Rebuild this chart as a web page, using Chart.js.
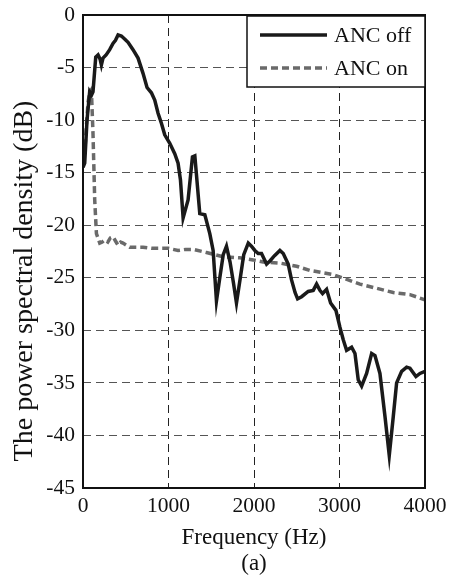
<!DOCTYPE html>
<html>
<head>
<meta charset="utf-8">
<script src="https://cdn.jsdelivr.net/npm/chart.js@4/dist/chart.umd.min.js"></script>
<style>
  html, body { margin: 0; padding: 0; background: #fff; }
  #psdChart { display: block; }
</style>
</head>
<body>
<canvas id="psdChart" width="451" height="583"></canvas>
<script>
// ANC off (solid black)
const offFreq = [0, 20, 47, 78, 100, 117, 149, 176, 200, 215, 234, 270, 312, 351, 380, 410, 449, 490, 527, 585,
    644, 702, 749, 800, 839, 878, 917, 956, 1015, 1073, 1112, 1140, 1171, 1229, 1280, 1308, 1366, 1425, 1483, 1522,
    1561, 1600, 1640, 1678, 1720, 1760, 1795, 1840, 1880, 1933, 1970, 2010, 2049, 2088, 2147, 2186, 2240, 2303, 2342,
    2400, 2439, 2480, 2510, 2557, 2634, 2693, 2732, 2771, 2802, 2849, 2896, 2958, 3005, 3044, 3083, 3142, 3181, 3219,
    3259, 3317, 3376, 3415, 3473, 3532, 3582, 3629, 3668, 3727, 3785, 3824, 3894, 3941, 4000];
const offDb = [-14.5, -14.1, -10, -7.3, -7.6, -7.3, -4.0, -3.8, -4.2, -4.75, -4.1, -3.8, -3.3, -2.7, -2.4, -1.9, -2.0, -2.3, -2.6, -3.3,
    -4.1, -5.55, -6.9, -7.4, -8.1, -9.35, -10.3, -11.4, -12.2, -13.2, -14.1, -15.7, -19.3, -17.6, -13.5, -13.4, -18.9, -19.0, -20.8, -22.4,
    -27.2, -25.0, -22.8, -22.0, -23.5, -25.5, -27.4, -25.0, -22.8, -21.7, -22.0, -22.4, -22.7, -22.7, -23.7, -23.4, -22.9, -22.4, -22.7,
    -23.7, -25.2, -26.4, -27.0, -26.8, -26.3, -26.2, -25.6, -26.2, -26.5, -26.1, -27.4, -28.1, -29.7, -30.9, -31.9, -31.6, -32.2, -34.7,
    -35.3, -34.1, -32.2, -32.4, -34.1, -38.2, -41.9, -38.2, -35.0, -33.9, -33.5, -33.6, -34.4, -34.1, -33.9];

// ANC on (grey dashed)
const onFreq = [0, 20, 40, 59, 80, 98, 117, 137, 157, 196, 225, 254, 290, 320, 351, 380, 410, 440, 468, 547,
    620, 702, 800, 898, 1000, 1112, 1200, 1288, 1444, 1639, 1834, 1990, 2107, 2303, 2498, 2654, 2927, 3239, 3629, 3824, 4000];
const onDb = [-13.5, -13.2, -10.5, -8.3, -7.3, -7.1, -11.3, -17.6, -20.8, -21.7, -21.6, -21.4, -21.6, -21.2, -21.1, -21.5, -21.9, -21.6, -21.7, -22.1,
    -22.1, -22.1, -22.2, -22.2, -22.2, -22.4, -22.3, -22.3, -22.6, -23.0, -23.1, -23.3, -23.5, -23.6, -23.9, -24.3, -24.7, -25.6, -26.4, -26.6, -27.1];

const xTicks = [0, 1000, 2000, 3000, 4000];
const yTicks = [0, -5, -10, -15, -20, -25, -30, -35, -40, -45];
const seriesLabels = ['ANC off', 'ANC on'];
const yTitle = 'The power spectral density (dB)';

const FONT = 'Liberation Serif, Times New Roman, serif';

const toPoints = (xs, ys) => xs.map((x, i) => ({x: x, y: ys[i]}));

// frame around the plot area, legend box in the top-right corner, y title
const framePlugin = {
    id: 'frame',
    afterDatasetsDraw(chart) {
        const {ctx, chartArea: a} = chart;
        ctx.save();
        ctx.strokeStyle = '#111';
        ctx.lineWidth = 2;
        ctx.setLineDash([]);
        ctx.strokeRect(a.left, a.top, a.right - a.left, a.bottom - a.top);

        // legend
        const boxL = a.right - 178, boxT = a.top + 1, boxR = a.right, boxB = a.top + 72;
        ctx.fillStyle = '#fff';
        ctx.fillRect(boxL, boxT, boxR - boxL, boxB - boxT);
        ctx.lineWidth = 1.5;
        ctx.strokeRect(boxL, boxT, boxR - boxL, boxB - boxT);
        ctx.font = '22px ' + FONT;
        ctx.textBaseline = 'middle';
        ctx.textAlign = 'left';
        chart.data.datasets.forEach((ds, i) => {
            const y = boxT + 19 + i * 33;
            ctx.strokeStyle = ds.borderColor;
            ctx.lineWidth = ds.borderWidth;
            ctx.setLineDash(ds.borderDash || []);
            ctx.beginPath();
            ctx.moveTo(boxL + 13, y);
            ctx.lineTo(boxL + 80, y);
            ctx.stroke();
            ctx.fillStyle = '#111';
            ctx.fillText(ds.label, boxL + 87, y + 1);
        });

        // y axis title (sits a bit below the plot centre in the original)
        ctx.translate(24, 281);
        ctx.rotate(-Math.PI / 2);
        ctx.font = '28px ' + FONT;
        ctx.textAlign = 'center';
        ctx.fillStyle = '#111';
        ctx.fillText(yTitle, 0, 1);
        ctx.restore();
    }
};

const ctx = document.getElementById('psdChart').getContext('2d');
new Chart(ctx, {
    type: 'line',
    data: {
        datasets: [
            {
                label: seriesLabels[0],
                data: toPoints(offFreq, offDb),
                borderColor: '#1a1a1a',
                borderWidth: 3.5,
                pointRadius: 0,
                tension: 0,
                fill: false
            },
            {
                label: seriesLabels[1],
                data: toPoints(onFreq, onDb),
                borderColor: '#6a6a6a',
                borderWidth: 3.5,
                borderDash: [7, 4],
                pointRadius: 0,
                tension: 0,
                fill: false
            }
        ]
    },
    options: {
        responsive: false,
        animation: false,
        layout: {padding: {top: 15, right: 26, left: 0, bottom: 0}},
        plugins: {
            legend: {display: false},
            tooltip: {enabled: false}
        },
        scales: {
            x: {
                type: 'linear',
                min: 0,
                max: 4000,
                afterFit: (scale) => {
                    scale.height = 95;
                    scale.paddingLeft = 0;
                    scale.paddingRight = 0;
                },
                afterBuildTicks: (scale) => { scale.ticks = xTicks.map(v => ({value: v})); },
                ticks: {
                    color: '#111',
                    font: {family: FONT, size: 21.5},
                    padding: 5,
                    maxRotation: 0,
                    callback: (v) => String(v)
                },
                grid: {
                    color: '#222',
                    lineWidth: 1,
                    drawTicks: false
                },
                border: {display: false, dash: [8, 5]},
                title: {
                    display: true,
                    text: ['Frequency (Hz)', '(a)'],
                    color: '#111',
                    font: {family: FONT, size: 23, lineHeight: 1.13},
                    padding: {top: 0, bottom: 6}
                }
            },
            y: {
                type: 'linear',
                min: -45,
                max: 0,
                afterFit: (scale) => {
                    scale.width = 83;
                    scale.paddingTop = 0;
                    scale.paddingBottom = 0;
                },
                afterBuildTicks: (scale) => { scale.ticks = yTicks.map(v => ({value: v})); },
                ticks: {
                    color: '#111',
                    font: {family: FONT, size: 21.5},
                    padding: 8,
                    callback: (v) => String(v)
                },
                grid: {
                    color: '#555',
                    lineWidth: 1,
                    drawTicks: false
                },
                border: {display: false, dash: [8, 5]}
            }
        }
    },
    plugins: [framePlugin]
});
</script>
</body>
</html>
